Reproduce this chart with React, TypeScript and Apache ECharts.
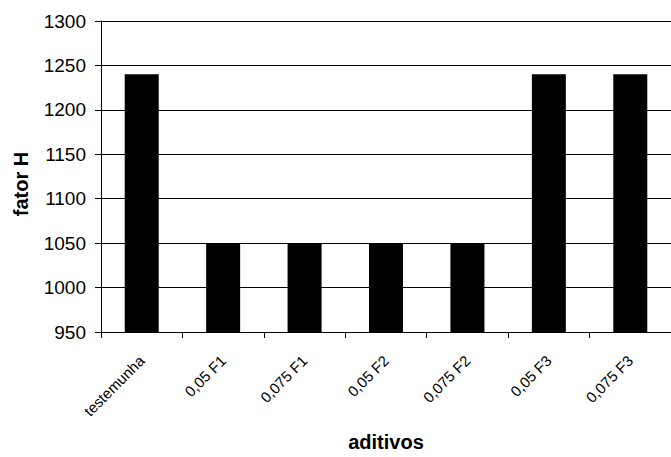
import React, { useEffect, useRef } from "react";
import * as echarts from "echarts";

const categories = [
  "testemunha",
  "0,05 F1",
  "0,075 F1",
  "0,05 F2",
  "0,075 F2",
  "0,05 F3",
  "0,075 F3",
];
const fatorH = [1240, 1050, 1050, 1050, 1050, 1240, 1240];
const yMin = 950;
const yMax = 1300;
const yStep = 50;

const FONT = "'Liberation Sans', Arial, sans-serif";

export default function App() {
  const ref = useRef<HTMLDivElement>(null);

  useEffect(() => {
    if (!ref.current) return;
    const chart = echarts.init(ref.current, null, { renderer: "svg" });
    chart.setOption({
      animation: false,
      backgroundColor: "#ffffff",
      grid: { left: 101, top: 21, width: 576, height: 317 },
      xAxis: {
        type: "category",
        data: categories,
        name: "aditivos",
        nameLocation: "middle",
        nameGap: 100,
        nameTextStyle: { fontFamily: FONT, fontSize: 20, fontWeight: "bold", color: "#000" },
        axisLine: { lineStyle: { color: "#000", width: 1 } },
        axisTick: { show: true, alignWithLabel: false, length: 6, lineStyle: { color: "#000" } },
        axisLabel: {
          rotate: 45,
          margin: 26,
          fontFamily: FONT,
          fontSize: 15,
          color: "#000",
          interval: 0,
        },
      },
      yAxis: {
        type: "value",
        min: yMin,
        max: yMax,
        interval: yStep,
        name: "fator H",
        nameLocation: "middle",
        nameGap: 70,
        nameTextStyle: {
          fontFamily: FONT,
          fontSize: 20,
          fontWeight: "bold",
          color: "#000",
          padding: [0, 15, 0, 0],
        },
        axisLine: { show: true, lineStyle: { color: "#000", width: 1 } },
        axisTick: { show: true, length: 6, lineStyle: { color: "#000" } },
        axisLabel: {
          margin: 15,
          fontFamily: FONT,
          fontSize: 19,
          color: "#000",
          formatter: (v: number) => String(v),
        },
        splitLine: { show: true, lineStyle: { color: "#000", width: 1 } },
      },
      series: [
        {
          type: "bar",
          data: fatorH,
          barWidth: 34,
          itemStyle: { color: "#000" },
        },
      ],
    });
    return () => chart.dispose();
  }, []);

  return (
    <div
      ref={ref}
      style={{ position: "fixed", left: 0, top: 0, width: 671, height: 457 }}
    />
  );
}
